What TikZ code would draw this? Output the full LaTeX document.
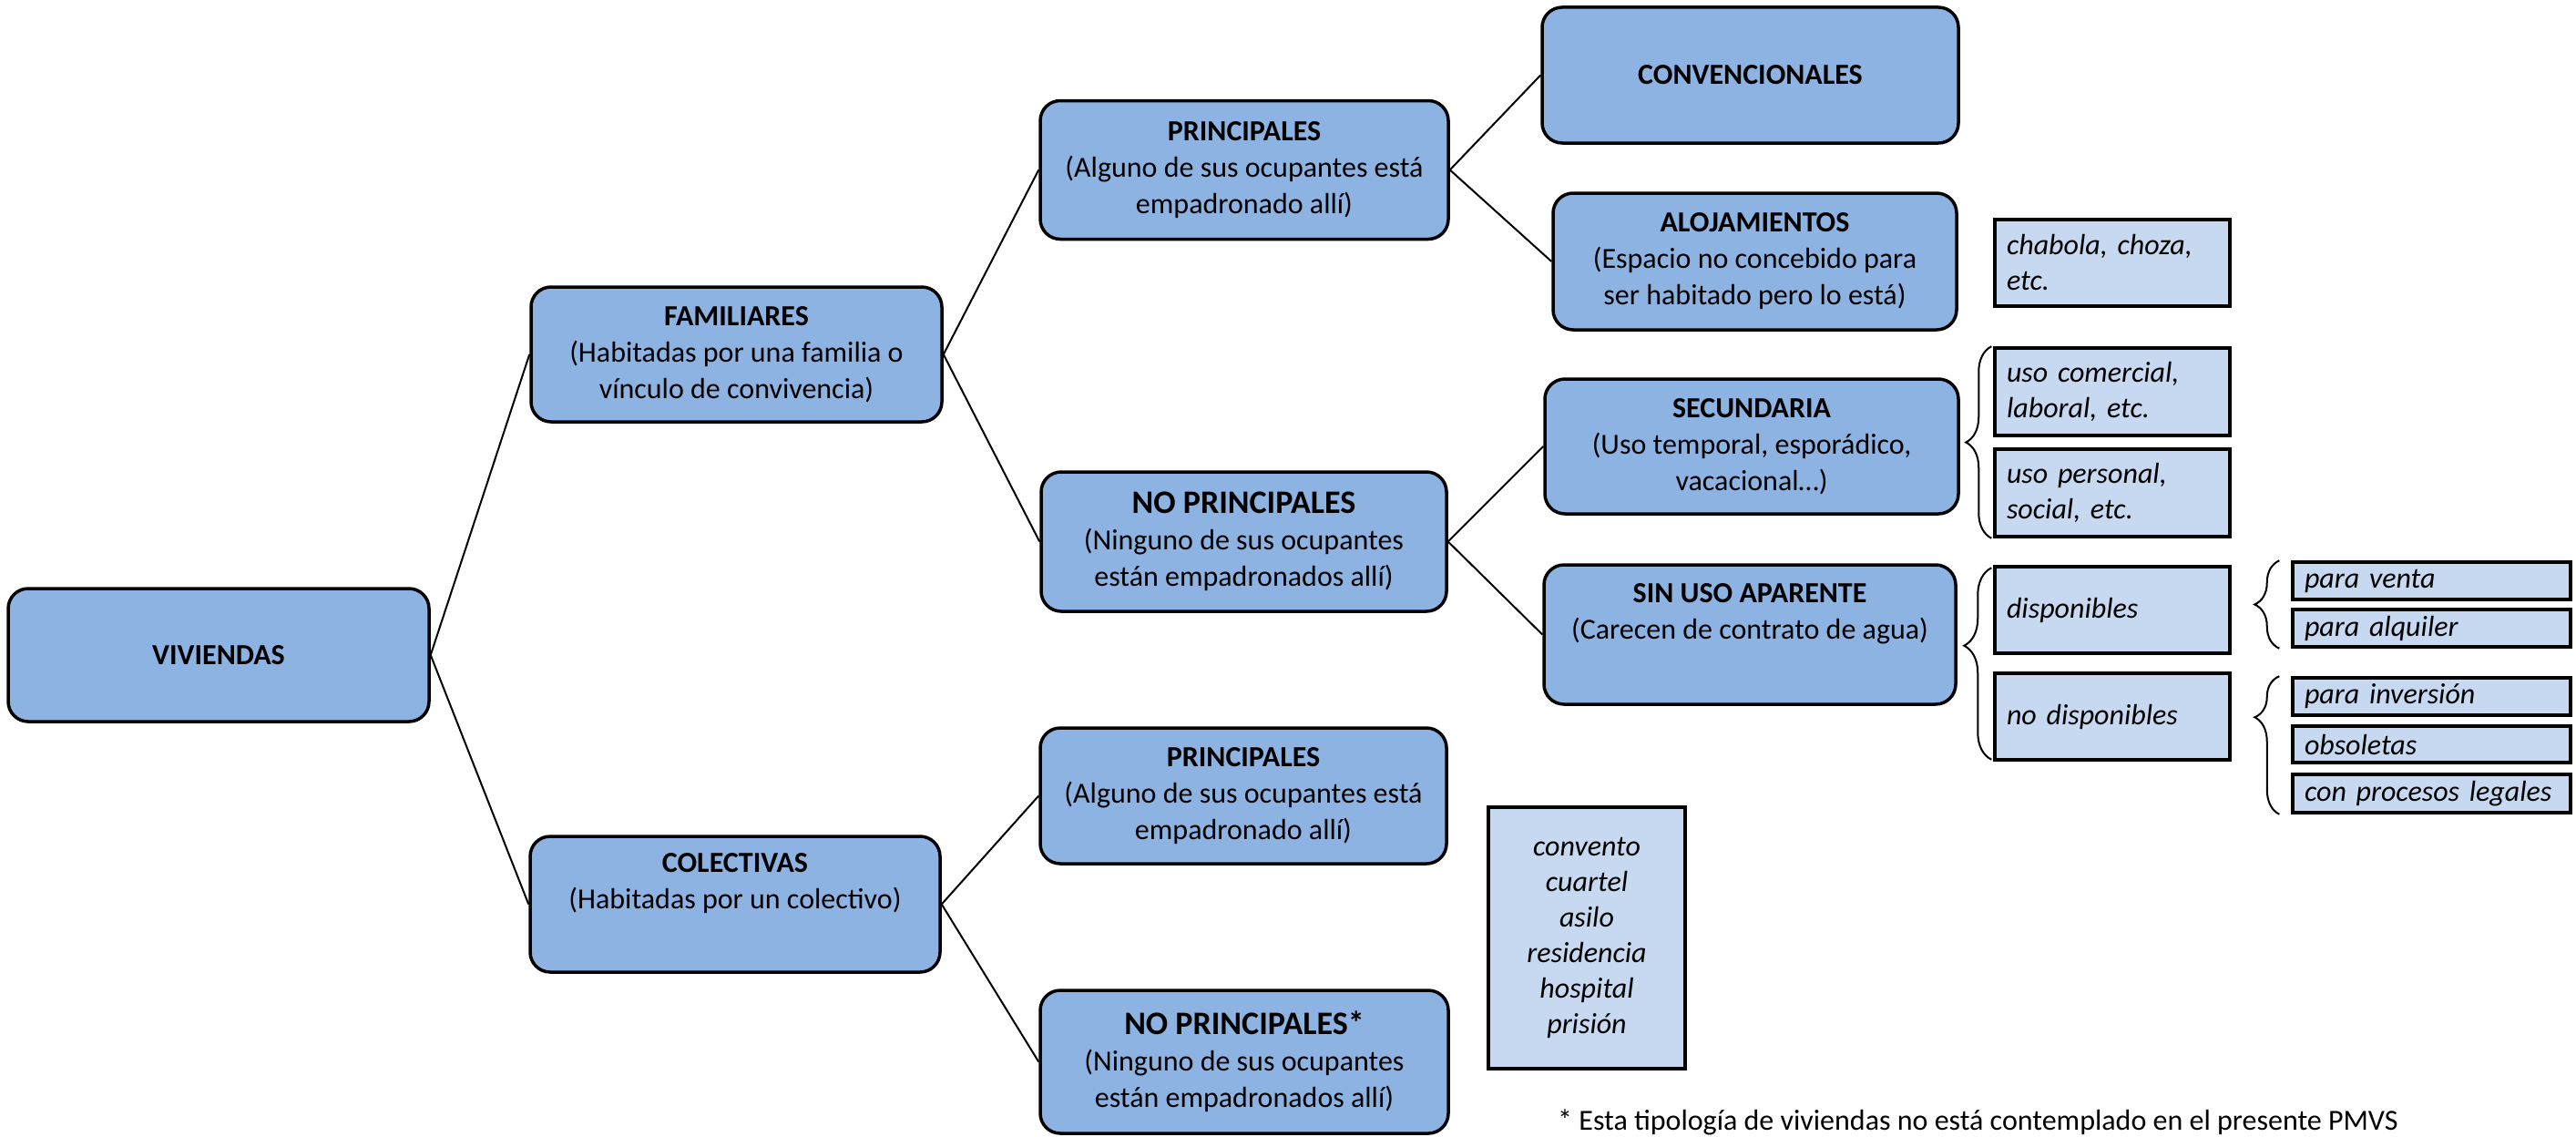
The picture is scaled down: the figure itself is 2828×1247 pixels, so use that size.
\documentclass[tikz,border=0pt]{standalone}
\usepackage{fontspec}
\setmainfont{Carlito}
\usetikzlibrary{decorations.pathreplacing,calc}
\definecolor{blueF}{HTML}{8DB3E2}
\definecolor{lightF}{HTML}{C6D9F1}
\begin{document}
\begin{tikzpicture}[x=1pt,y=-1pt,
  base/.style={font=\fontsize{32}{40}\selectfont},
  bluebox/.style={base, draw=black, line width=3.5pt, fill=blueF, rounded corners=22pt, align=center, inner sep=0pt},
  lightbox/.style={draw=black, line width=3.5pt, fill=lightF, inner ysep=0pt, inner xsep=13pt, align=left, font=\fontsize{32}{39}\selectfont\itshape},
  conn/.style={line width=2pt},
  brc/.style={line width=2pt, decorate, decoration={brace, amplitude=#1}},
]
\useasboundingbox[fill=white] (0,0) rectangle (2828,1247);

% blue boxes
\node[bluebox, minimum width=462pt, minimum height=146pt] (viv) at (240,719) {\textbf{VIVIENDAS}};
\node[bluebox, minimum width=451pt, minimum height=148pt] (fam) at (808.5,389) {\textbf{FAMILIARES}\\(Habitadas por una familia o\\vínculo de convivencia)};
\node[bluebox, minimum width=450pt, minimum height=149pt] (col) at (807,992.5) {\textbf{COLECTIVAS}\\(Habitadas por un colectivo)\\\strut};
\node[bluebox, minimum width=448pt, minimum height=152pt] (prin1) at (1366,186.5) {\textbf{PRINCIPALES}\\(Alguno de sus ocupantes está\\empadronado allí)};
\node[bluebox, minimum width=445pt, minimum height=153pt] (nopr1) at (1365.5,594.5) {{\fontsize{36}{40}\selectfont\textbf{NO PRINCIPALES}}\\(Ninguno de sus ocupantes\\están empadronados allí)};
\node[bluebox, minimum width=446pt, minimum height=149pt] (prin2) at (1365,873.5) {\textbf{PRINCIPALES}\\(Alguno de sus ocupantes está\\empadronado allí)};
\node[bluebox, minimum width=448pt, minimum height=157pt] (nopr2) at (1366,1165.5) {{\fontsize{36}{40}\selectfont\textbf{NO PRINCIPALES*}}\\(Ninguno de sus ocupantes\\están empadronados allí)};
\node[bluebox, minimum width=457pt, minimum height=149pt] (conv) at (1921.5,82.5) {\textbf{CONVENCIONALES}};
\node[bluebox, minimum width=443pt, minimum height=150pt] (aloj) at (1926.5,287) {\textbf{ALOJAMIENTOS}\\(Espacio no concebido para\\ser habitado pero lo está)};
\node[bluebox, minimum width=454pt, minimum height=148pt] (secu) at (1923,490) {\textbf{SECUNDARIA}\\(Uso temporal, esporádico,\\vacacional…)};
\node[bluebox, minimum width=452pt, minimum height=153pt] (sinuso) at (1921,696.5) {\textbf{SIN USO APARENTE}\\(Carecen de contrato de agua)\\\strut};

% light boxes
\node[lightbox, text width=232pt, minimum height=95pt] (chab) at (2319,288.5) {chabola, choza,\\etc.};
\node[lightbox, text width=232pt, minimum height=96pt] (usocom) at (2319,430) {uso comercial,\\laboral, etc.};
\node[lightbox, text width=232pt, minimum height=96pt] (usoper) at (2319,541) {uso personal,\\social, etc.};
\node[lightbox, text width=232pt, minimum height=95pt] (disp) at (2319,669.5) {disponibles};
\node[lightbox, text width=232pt, minimum height=95pt] (nodisp) at (2319,786.5) {no disponibles};
\node[lightbox, text width=279pt, minimum height=41pt] (venta) at (2669.5,637.5) {para venta};
\node[lightbox, text width=279pt, minimum height=41pt] (alq) at (2669.5,689.5) {para alquiler};
\node[lightbox, text width=279pt, minimum height=41pt] (inv) at (2669.5,764.5) {para inversión};
\node[lightbox, text width=279pt, minimum height=40pt] (obs) at (2669.5,817) {obsoletas};
\node[lightbox, text width=279pt, minimum height=42pt] (proc) at (2669.5,871) {con procesos legales};
\node[lightbox, text width=190pt, align=center, minimum height=287pt] (lista) at (1742,1029.5) {convento\\cuartel\\asilo\\residencia\\hospital\\prisión};

% footnote
\node[font=\fontsize{32}{40}\selectfont, anchor=base west, inner sep=0pt] (nota) at (1710,1240) {* Esta tipología de viviendas no está contemplado en el presente PMVS};

% connectors
\draw[conn] (viv.east) -- (fam.west);
\draw[conn] (viv.east) -- (col.west);
\draw[conn] (fam.east) -- (prin1.west);
\draw[conn] (fam.east) -- (nopr1.west);
\draw[conn] (col.east) -- (prin2.west);
\draw[conn] (col.east) -- (nopr2.west);
\draw[conn] (prin1.east) -- (conv.west);
\draw[conn] (prin1.east) -- (aloj.west);
\draw[conn] (nopr1.east) -- (secu.west);
\draw[conn] (nopr1.east) -- (sinuso.west);

% braces
\draw[brc=28pt] ($(usoper.south west)+(-2,0)$) -- ($(usocom.north west)+(-2,0)$);
\draw[brc=30pt, decoration={aspect=0.594}] ($(nodisp.south west)+(-2,-2)$) -- ($(disp.north west)+(-2,3)$);
\draw[brc=27pt] ($(alq.south west)+(-13,0)$) -- ($(venta.north west)+(-13,0)$);
\draw[brc=27pt, decoration={aspect=0.703}] ($(proc.south west)+(-13,0)$) -- ($(inv.north west)+(-13,0)$);
\end{tikzpicture}
\end{document}
